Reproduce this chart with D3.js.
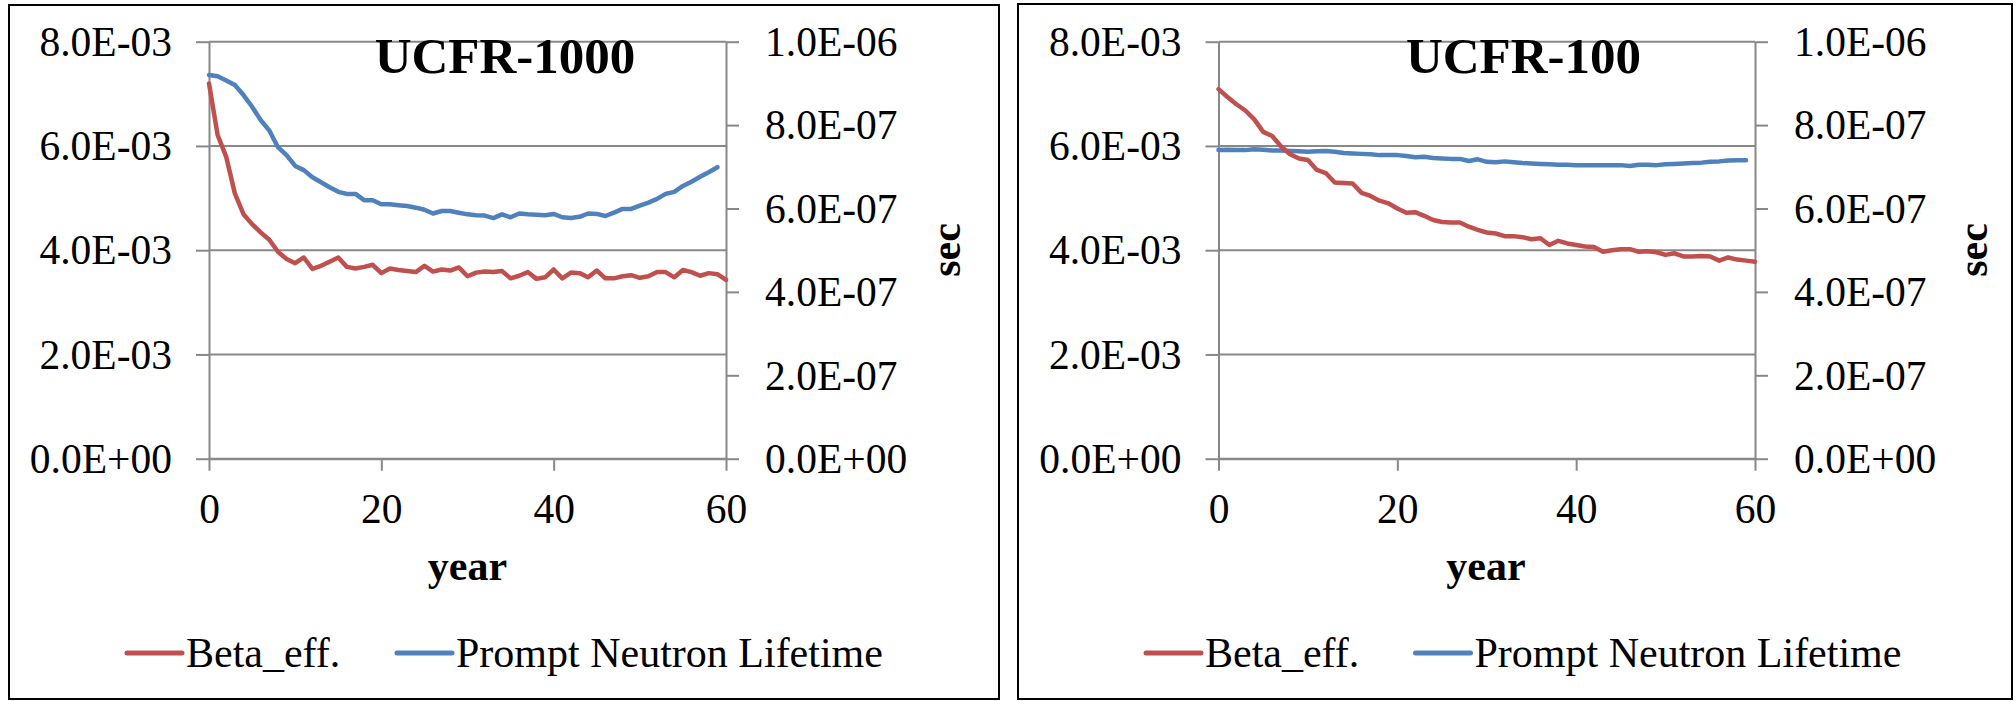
<!DOCTYPE html>
<html>
<head>
<meta charset="utf-8">
<script src="https://cdn.jsdelivr.net/npm/d3@7"></script>
<style>
  html, body { margin: 0; padding: 0; background: #ffffff; }
  svg { display: block; }
  text { font-family: "Liberation Serif", "Times New Roman", serif; fill: #000; }
</style>
</head>
<body>
<script>
// ---------------- DATA ----------------
const years = d3.range(0, 61);                 // 0..60
const seriesNames = ["Beta_eff.", "Prompt Neutron Lifetime"];
const panelTitles = ["UCFR-1000", "UCFR-100"];
const xTickValues = [0, 20, 40, 60];
const xTickLabels = ["0", "20", "40", "60"];
const yLeftTickValues = [0, 2e-3, 4e-3, 6e-3, 8e-3];
const yLeftTickLabels = ["0.0E+00", "2.0E-03", "4.0E-03", "6.0E-03", "8.0E-03"];
const yRightTickValues = [0, 2e-7, 4e-7, 6e-7, 8e-7, 1e-6];
const yRightTickLabels = ["0.0E+00", "2.0E-07", "4.0E-07", "6.0E-07", "8.0E-07", "1.0E-06"];
const xAxisTitle = "year";
const yRightTitle = "sec";

// UCFR-1000, Beta_eff. (x 1e-3), years 0..60
const beta1000 = [7.20, 6.21, 5.79, 5.09, 4.69, 4.50, 4.34, 4.20, 3.97, 3.83,
                  3.75, 3.86, 3.64, 3.70, 3.78, 3.86, 3.68, 3.65, 3.68, 3.72,
                  3.56, 3.65, 3.62, 3.60, 3.58, 3.70, 3.59, 3.63, 3.61, 3.67,
                  3.50, 3.57, 3.59, 3.58, 3.60, 3.46, 3.51, 3.58, 3.45, 3.48,
                  3.63, 3.46, 3.57, 3.56, 3.48, 3.61, 3.46, 3.46, 3.50, 3.52,
                  3.47, 3.50, 3.58, 3.58, 3.48, 3.62, 3.58, 3.51, 3.56, 3.54,
                  3.43];
// UCFR-1000, Prompt Neutron Lifetime (x 1e-7 s), years 0..59
const pnl1000 = [9.20, 9.17, 9.07, 8.96, 8.72, 8.44, 8.12, 7.87, 7.47, 7.28,
                 7.02, 6.92, 6.75, 6.63, 6.51, 6.40, 6.35, 6.35, 6.20, 6.20,
                 6.10, 6.10, 6.08, 6.06, 6.02, 5.97, 5.88, 5.94, 5.94, 5.90,
                 5.86, 5.84, 5.83, 5.77, 5.86, 5.79, 5.88, 5.86, 5.85, 5.84,
                 5.87, 5.79, 5.77, 5.80, 5.88, 5.87, 5.82, 5.90, 5.99, 5.99,
                 6.07, 6.14, 6.23, 6.35, 6.40, 6.54, 6.64, 6.76, 6.87, 6.99];
// UCFR-100, Beta_eff. (x 1e-3), years 0..60
const beta100 = [7.09, 6.94, 6.80, 6.68, 6.51, 6.27, 6.19, 5.99, 5.84, 5.76,
                 5.73, 5.54, 5.48, 5.30, 5.29, 5.28, 5.10, 5.04, 4.95, 4.90,
                 4.80, 4.72, 4.73, 4.66, 4.58, 4.54, 4.53, 4.53, 4.45, 4.39,
                 4.34, 4.32, 4.27, 4.27, 4.25, 4.21, 4.23, 4.10, 4.18, 4.13,
                 4.10, 4.07, 4.06, 3.97, 4.00, 4.02, 4.02, 3.97, 3.98, 3.96,
                 3.91, 3.94, 3.88, 3.88, 3.89, 3.88, 3.80, 3.86, 3.82, 3.80,
                 3.78];
// UCFR-100, Prompt Neutron Lifetime (x 1e-7 s), years 0..59
const pnl100 = [7.40, 7.41, 7.40, 7.40, 7.42, 7.41, 7.39, 7.39, 7.38, 7.37,
                7.36, 7.37, 7.38, 7.36, 7.33, 7.32, 7.31, 7.30, 7.28, 7.28,
                7.28, 7.26, 7.23, 7.24, 7.21, 7.20, 7.19, 7.19, 7.14, 7.18,
                7.12, 7.11, 7.13, 7.11, 7.09, 7.08, 7.07, 7.06, 7.05, 7.05,
                7.04, 7.04, 7.04, 7.04, 7.04, 7.04, 7.02, 7.05, 7.05, 7.04,
                7.06, 7.07, 7.08, 7.09, 7.10, 7.12, 7.13, 7.15, 7.16, 7.16];
const betaUnit = 1e-3;
const pnlUnit = 1e-7;

// ---------------- LAYOUT / STYLE ----------------
const W = 2016, H = 701;
const colors = { beta: "#C0504D", pnl: "#4F81BD", grid: "#888888", border: "#000000" };
const panels = [
  { title: panelTitles[0], beta: beta1000, pnl: pnl1000,
    box: { x: 9, y: 5, w: 990, h: 694 }, x0: 209, x1: 726,
    titleX: 505, legendRed: 127, legendBlue: 397, secX: 960, yearX: 467.5 },
  { title: panelTitles[1], beta: beta100, pnl: pnl100,
    box: { x: 1018, y: 4, w: 994, h: 695 }, x0: 1218.5, x1: 1755,
    titleX: 1523.5, legendRed: 1146, legendBlue: 1415.5, secX: 1987, yearX: 1486 }
];
const plotTop = 41.7, plotBottom = 458.7;
const tickLen = 13;
const tickFont = 41.5, legendFont = 42, axisTitleFont = 42, titleFont = 51;

const svg = d3.select("body").append("svg").attr("width", W).attr("height", H);

panels.forEach(p => {
  const g = svg.append("g");

  // panel border
  g.append("rect")
    .attr("x", p.box.x).attr("y", p.box.y).attr("width", p.box.w).attr("height", p.box.h)
    .attr("fill", "#fff").attr("stroke", colors.border).attr("stroke-width", 2);

  const x = d3.scaleLinear().domain([0, 60]).range([p.x0, p.x1]);
  const yL = d3.scaleLinear().domain([0, 8e-3]).range([plotBottom, plotTop]);
  const yR = d3.scaleLinear().domain([0, 1e-6]).range([plotBottom, plotTop]);

  // horizontal gridlines (primary axis)
  g.append("g").selectAll("line").data(yLeftTickValues).join("line")
    .attr("x1", p.x0).attr("x2", p.x1)
    .attr("y1", d => yL(d)).attr("y2", d => yL(d))
    .attr("stroke", colors.grid).attr("stroke-width", 2);

  function styleAxis(sel) {
    sel.select(".domain").attr("stroke", colors.grid).attr("stroke-width", 2);
    sel.selectAll(".tick line").attr("stroke", colors.grid).attr("stroke-width", 2);
    sel.selectAll(".tick text")
      .style("font-family", '"Liberation Serif", "Times New Roman", serif')
      .attr("fill", "#000");
  }

  // left axis
  const axL = g.append("g").attr("transform", `translate(${p.x0},0)`)
    .call(d3.axisLeft(yL).tickValues(yLeftTickValues)
      .tickFormat((d, i) => yLeftTickLabels[i]).tickSize(tickLen).tickSizeOuter(0).tickPadding(24))
    .attr("font-size", tickFont);
  styleAxis(axL);
  axL.selectAll(".tick text").attr("dy", "0.33em");

  // right axis
  const axR = g.append("g").attr("transform", `translate(${p.x1},0)`)
    .call(d3.axisRight(yR).tickValues(yRightTickValues)
      .tickFormat((d, i) => yRightTickLabels[i]).tickSize(tickLen).tickSizeOuter(0).tickPadding(26))
    .attr("font-size", tickFont);
  styleAxis(axR);
  axR.selectAll(".tick text").attr("dy", "0.33em");

  // bottom axis
  const axB = g.append("g").attr("transform", `translate(0,${plotBottom})`)
    .call(d3.axisBottom(x).tickValues(xTickValues)
      .tickFormat((d, i) => xTickLabels[i]).tickSize(12).tickSizeOuter(0))
    .attr("font-size", tickFont);
  styleAxis(axB);
  axB.selectAll(".tick text").attr("y", 64).attr("dy", 0);

  // lines
  const lineBeta = d3.line().x((d, i) => x(years[i])).y(d => yL(d * betaUnit));
  const linePnl = d3.line().x((d, i) => x(years[i])).y(d => yR(d * pnlUnit));
  g.append("path").datum(p.pnl).attr("d", linePnl)
    .attr("fill", "none").attr("stroke", colors.pnl).attr("stroke-width", 4.5)
    .attr("stroke-linejoin", "round").attr("stroke-linecap", "round");
  g.append("path").datum(p.beta).attr("d", lineBeta)
    .attr("fill", "none").attr("stroke", colors.beta).attr("stroke-width", 4.5)
    .attr("stroke-linejoin", "round").attr("stroke-linecap", "round");

  // title
  g.append("text").attr("x", p.titleX).attr("y", 73)
    .attr("text-anchor", "middle").attr("font-weight", "bold")
    .attr("font-size", titleFont).text(p.title);

  // x axis title
  g.append("text").attr("x", p.yearX).attr("y", 580)
    .attr("text-anchor", "middle").attr("font-weight", "bold")
    .attr("font-size", axisTitleFont).text(xAxisTitle);

  // right axis title
  g.append("text").attr("transform", `translate(${p.secX},250) rotate(-90)`)
    .attr("text-anchor", "middle").attr("font-weight", "bold")
    .attr("font-size", axisTitleFont).text(yRightTitle);

  // legend
  const legendItems = [
    { name: seriesNames[0], color: colors.beta, x: p.legendRed },
    { name: seriesNames[1], color: colors.pnl, x: p.legendBlue }
  ];
  const lg = g.append("g");
  legendItems.forEach(it => {
    lg.append("line").attr("x1", it.x).attr("x2", it.x + 55)
      .attr("y1", 653).attr("y2", 653)
      .attr("stroke", it.color).attr("stroke-width", 5).attr("stroke-linecap", "round");
    lg.append("text").attr("x", it.x + 59).attr("y", 667)
      .attr("font-size", legendFont).text(it.name);
  });
});
</script>
</body>
</html>
